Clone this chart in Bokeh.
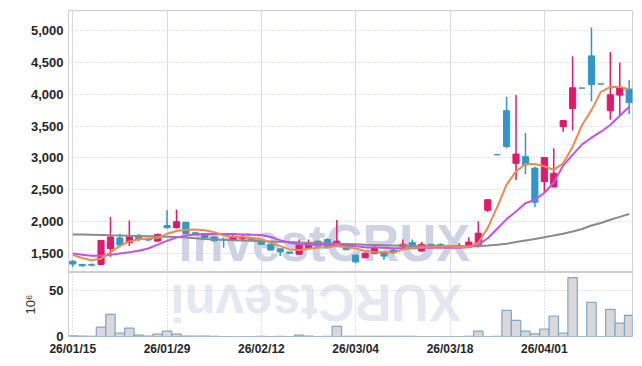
import math
from bokeh.plotting import figure
from bokeh.layouts import column
from bokeh.models import (ColumnDataSource, FixedTicker, NumeralTickFormatter,
                          Label, Range1d, Grid)
from bokeh.embed import file_html
from bokeh.resources import INLINE

dates = ["26/01/15", "26/01/16", "26/01/19", "26/01/20", "26/01/21", "26/01/22", "26/01/23",
         "26/01/26", "26/01/27", "26/01/28", "26/01/29", "26/01/30", "26/02/02", "26/02/03",
         "26/02/04", "26/02/05", "26/02/06", "26/02/09", "26/02/10", "26/02/11", "26/02/12",
         "26/02/13", "26/02/19", "26/02/20", "26/02/23", "26/02/24", "26/02/25", "26/02/26",
         "26/02/27", "26/03/03", "26/03/04", "26/03/05", "26/03/06", "26/03/09", "26/03/10",
         "26/03/11", "26/03/12", "26/03/13", "26/03/16", "26/03/17", "26/03/18", "26/03/19",
         "26/03/20", "26/03/23", "26/03/24", "26/03/25", "26/03/26", "26/03/27", "26/03/30",
         "26/03/31", "26/04/01", "26/04/02", "26/04/03", "26/04/06", "26/04/07", "26/04/08",
         "26/04/09", "26/04/10", "26/04/13", "26/04/14"]

opens = [1380, 1330, 1325, 1330, 1580, 1745, 1670, 1770, 1730, 1695,
         1940, 1905, 1990, 1825, 1815, 1760, 1725, 1712, 1735, 1750,
         1720, 1645, 1575, 1525, 1490, 1590, 1695, 1720, 1670, 1645,
         1475, 1435, 1505, 1525, 1555, 1610, 1670, 1540, 1645, 1645,
         1600, 1610, 1605, 1640, 2180, 3050, 3740, 2915, 3020, 2840,
         2630, 2545, 3490, 3775, 4095, 4600, 4160, 3740, 3985, 4080]
highs = [1395, 1335, 1345, 1710, 2075, 1810, 2020, 1805, 1740, 1815,
         2180, 2190, 2000, 1835, 1820, 1765, 1750, 1800, 1790, 1760,
         1730, 1650, 1580, 1530, 1720, 1720, 1700, 1740, 2025, 1660,
         1480, 1515, 1630, 1540, 1570, 1720, 1720, 1680, 1650, 1660,
         1610, 1660, 1750, 2005, 2345, 3050, 3960, 3985, 3390, 2860,
         3010, 3150, 3590, 4595, 4095, 5045, 4160, 4660, 4495, 4220]
lows = [1295, 1295, 1300, 1320, 1450, 1615, 1620, 1695, 1695, 1690,
        1895, 1895, 1800, 1780, 1745, 1690, 1590, 1705, 1700, 1710,
        1635, 1550, 1460, 1500, 1480, 1580, 1610, 1580, 1660, 1555,
        1350, 1425, 1490, 1400, 1490, 1590, 1575, 1530, 1595, 1600,
        1590, 1580, 1600, 1600, 2150, 3050, 3150, 2655, 2745, 2225,
        2440, 2535, 3410, 3430, 4095, 3890, 4160, 3600, 3665, 3690]
closes = [1335, 1310, 1318, 1705, 1760, 1635, 1760, 1730, 1712, 1800,
          1905, 2000, 1815, 1800, 1750, 1700, 1715, 1758, 1745, 1715,
          1645, 1555, 1525, 1505, 1630, 1670, 1617, 1590, 1695, 1560,
          1370, 1505, 1590, 1460, 1515, 1645, 1580, 1645, 1610, 1610,
          1595, 1615, 1680, 1820, 2345, 3050, 3180, 3060, 2890, 2305,
          3005, 2760, 3585, 4100, 4095, 4150, 4160, 3990, 4100, 3870]

# volume in millions of shares
volumes = [0.6, 0.5, 0.2, 10.2, 24.3, 3.6, 9.1, 1.5, 0.5, 2.6,
           5.8, 2.6, 0.5, 0.5, 0.5, 0.3, 0.0, 0.0, 0.0, 0.0,
           0.3, 0.0, 0.3, 0.0, 1.5, 0.4, 0.0, 0.3, 11.2, 0.3,
           0.3, 0.3, 0.3, 0.3, 0.3, 0.3, 0.3, 0.0, 0.0, 0.0,
           0.0, 0.0, 0.3, 5.8, 0.0, 0.3, 28.7, 17.8, 5.8, 2.9,
           8.0, 22.5, 3.6, 64.6, 0.0, 37.4, 0.0, 29.8, 14.6, 23.3]

ma_short = [1480, 1430, 1395, 1420, 1520, 1620, 1690, 1725, 1735, 1745,
            1810, 1855, 1875, 1878, 1866, 1836, 1784, 1763, 1760, 1745,
            1722, 1669, 1617, 1565, 1555, 1575, 1591, 1600, 1617, 1600,
            1581, 1539, 1523, 1520, 1513, 1565, 1591, 1595, 1605, 1610,
            1612, 1600, 1605, 1669, 1903, 2227, 2581, 2789, 2906, 2906,
            2870, 2812, 2916, 3177, 3516, 3750, 4036, 4114, 4114, 4078]
ma_mid = [1503, 1480, 1465, 1465, 1480, 1500, 1520, 1545, 1580, 1640,
          1700, 1750, 1785, 1800, 1805, 1805, 1805, 1805, 1800, 1795,
          1790, 1760, 1710, 1670, 1645, 1640, 1640, 1640, 1630, 1625,
          1615, 1600, 1595, 1590, 1585, 1582, 1585, 1590, 1590, 1590,
          1590, 1590, 1600, 1640, 1740, 1890, 2040, 2160, 2290, 2345,
          2450, 2615, 2880, 3047, 3213, 3317, 3411, 3516, 3661, 3802]
ma_long = [1800, 1798, 1795, 1792, 1788, 1785, 1780, 1776, 1772, 1768,
           1764, 1758, 1750, 1742, 1730, 1722, 1715, 1710, 1705, 1700,
           1695, 1690, 1685, 1680, 1675, 1670, 1665, 1660, 1655, 1650,
           1645, 1640, 1636, 1632, 1628, 1625, 1622, 1620, 1618, 1616,
           1615, 1614, 1614, 1616, 1625, 1638, 1653, 1680, 1705, 1730,
           1755, 1785, 1810, 1845, 1885, 1940, 1980, 2030, 2075, 2120]

price_ticks = [1500, 2000, 2500, 3000, 3500, 4000, 4500, 5000]
volume_ticks = [0, 50]
date_tick_every = 10

UP = "#e2186c"
DOWN = "#3197c9"
GRID = "#c3c9dd"
FONT = "Liberation Sans"

idx = list(range(len(dates)))
colors = [UP if c > o else DOWN for o, c in zip(opens, closes)]
src = ColumnDataSource(dict(
    x=idx, open=opens, high=highs, low=lows, close=closes,
    top=[max(o, c) for o, c in zip(opens, closes)],
    bottom=[min(o, c) for o, c in zip(opens, closes)],
    color=colors, vol=volumes,
    ma_s=ma_short, ma_m=ma_mid, ma_l=ma_long))

date_ticks = idx[::date_tick_every]
x_range = Range1d(-0.45, len(dates) - 0.65)


def style_axis(ax, size):
    ax.axis_line_color = None
    ax.major_tick_line_color = None
    ax.minor_tick_line_color = None
    ax.major_tick_out = 0
    ax.major_tick_in = 0
    ax.minor_tick_out = 0
    ax.major_label_text_font = FONT
    ax.major_label_text_font_style = "bold"
    ax.major_label_text_font_size = size
    ax.major_label_text_color = "#262626"


p = figure(width=636, height=272, x_range=x_range, y_range=Range1d(1203, 5312),
           output_backend="svg", toolbar_location=None, x_axis_location=None,
           min_border_left=68, min_border_right=4, min_border_top=10, min_border_bottom=0)
p.outline_line_color = "#cfcfcf"
p.yaxis.ticker = FixedTicker(ticks=price_ticks)
p.yaxis.formatter = NumeralTickFormatter(format="0,0")
style_axis(p.yaxis[0], "13px")
p.yaxis.major_label_standoff = 5
p.ygrid.grid_line_color = GRID
p.ygrid.grid_line_dash = "1 2"
p.add_layout(Grid(dimension=0, ticker=FixedTicker(ticks=date_ticks),
                  grid_line_color=GRID, grid_line_dash="1 2"))

p.add_layout(Label(x=11.2, y=1212, text="investCRUX", text_font="Liberation Sans",
                   text_font_style="bold", text_font_size="51px",
                   text_color="#c5cbdf", text_alpha=0.85, level="image"))

p.segment(x0="x", y0="low", x1="x", y1="high", color="color", line_width=1.5, source=src)
p.vbar(x="x", width=0.65, top="top", bottom="bottom", fill_color="color",
       line_color="color", line_width=1, source=src)
p.line("x", "ma_l", color="#8a8a8a", line_width=2, source=src)
p.line("x", "ma_m", color="#c552e8", line_width=2, source=src)
p.line("x", "ma_s", color="#f0894c", line_width=2, source=src)

v = figure(width=636, height=86, x_range=x_range, y_range=Range1d(0, 70.3),
           output_backend="svg", toolbar_location=None,
           min_border_left=68, min_border_right=4, min_border_top=0, min_border_bottom=0)
v.outline_line_color = "#cfcfcf"
v.add_layout(Label(x=41.3, y=69.0, text="XURCtsevni", angle=math.pi,
                   text_font="Liberation Sans", text_font_style="bold",
                   text_font_size="51px", text_color="#dfe2ec", text_alpha=0.8,
                   level="image"))
v.vbar(x="x", width=1.0, top="vol", bottom=0, fill_color="#d8d8d8",
       line_color="#7ea7cb", line_width=1.2, source=src)
v.xaxis.ticker = FixedTicker(ticks=date_ticks)
v.xaxis.major_label_overrides = {i: dates[i] for i in date_ticks}
style_axis(v.xaxis[0], "12px")
v.xaxis.major_label_standoff = 5
v.yaxis.ticker = FixedTicker(ticks=volume_ticks)
style_axis(v.yaxis[0], "13px")
v.yaxis.major_label_standoff = 5
v.yaxis.axis_label = "10⁶"
v.yaxis.axis_label_text_font = "Liberation Sans"
v.yaxis.axis_label_text_font_style = "normal"
v.yaxis.axis_label_text_font_size = "13px"
v.yaxis.axis_label_text_color = "#333333"
v.yaxis.axis_label_standoff = 8
v.xgrid.grid_line_color = GRID
v.xgrid.grid_line_dash = "1 2"
v.ygrid.grid_line_color = GRID
v.ygrid.grid_line_dash = "1 2"

layout = column(p, v, spacing=0)
open("out.html", "w").write(file_html(layout, INLINE))
